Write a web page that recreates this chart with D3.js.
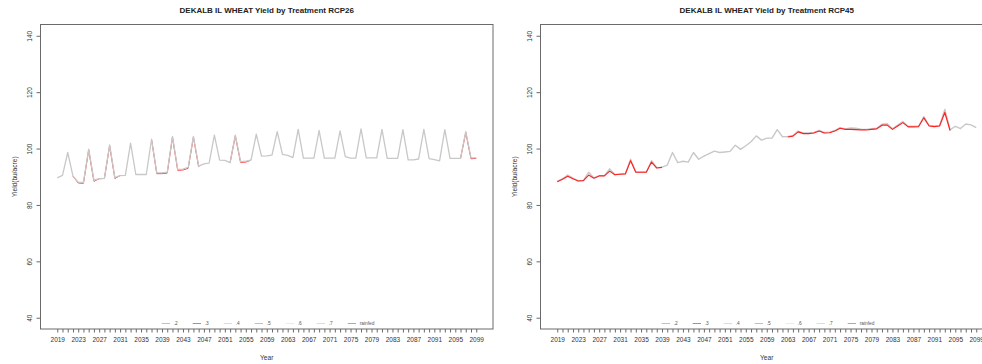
<!DOCTYPE html>
<html><head><meta charset="utf-8">
<script src="https://cdn.jsdelivr.net/npm/d3@7"></script>
<style>body{margin:0;background:#fff;overflow:hidden;} svg{display:block;font-family:"Liberation Sans",Arial,sans-serif;}</style>
</head><body><svg id="c" width="982" height="364"></svg>
<script>
// ---------- data ----------
const years = d3.range(2019, 2100);
const xTickLabels = ["2019","2023","2027","2031","2035","2039","2043","2047","2051","2055","2059","2063","2067","2071","2075","2079","2083","2087","2091","2095","2099"];
const yTicks = [40, 60, 80, 100, 120, 140];
const treatments = [".2", ".3", ".4", ".5", ".6", ".7", "rainfed"];
const legendColors = ["#8ae68a", "#8c8cf0", "#9ef7f7", "#f59af5", "#f7f78c", "#dcdcdc", "#f58c8c"];
const titles = ["DEKALB IL WHEAT Yield by Treatment RCP26", "DEKALB IL WHEAT Yield by Treatment RCP45"];

const rcp26_t7 = [
  89.6, 90.5, 98.6, 90.2, 88.1, 88.0, 99.8, 88.7, 89.3, 89.4,
  101.3, 89.7, 90.4, 90.5, 101.9, 90.8, 90.8, 90.8, 103.3, 91.4,
  91.4, 91.6, 104.3, 92.6, 92.7, 93.3, 104.3, 93.8, 94.6, 94.8,
  104.8, 95.9, 95.8, 95.0, 104.8, 95.4, 95.5, 95.9, 105.1, 97.3,
  97.4, 97.7, 106.0, 97.9, 97.6, 96.8, 106.8, 96.6, 96.6, 96.6,
  106.4, 96.6, 96.6, 96.6, 106.3, 97.1, 96.6, 96.6, 107.0, 96.7,
  96.7, 96.7, 106.8, 96.5, 96.5, 96.5, 106.7, 96.0, 96.0, 96.3,
  106.8, 96.4, 96.1, 95.6, 106.7, 96.5, 96.5, 96.5, 106.0, 96.7,
  96.7];
const rcp26_rainfed = [
  null, null, null, 90.2, 87.8, 87.7, 99.5, 88.4, 89.3, 89.4,
  101.0, 89.4, 90.4, null, null, null, null, null, 103.3, 91.1,
  91.1, 91.3, 104.0, 92.3, 92.4, 93.0, 104.0, 93.5, null, null,
  null, null, null, 95.0, 104.5, 95.1, 95.2, 95.9, null, null,
  null, null, null, null, null, null, null, null, null, null,
  null, null, null, null, null, null, null, null, null, null,
  null, null, null, null, null, null, null, null, null, null,
  null, null, null, null, null, null, null, 96.5, 105.7, 96.4,
  96.5];

const rcp45_t7 = [
  88.4, 89.3, 90.6, 89.5, 88.6, 88.7, 91.6, 89.6, 90.4, 90.4,
  92.8, 90.8, 91.0, 91.1, 96.2, 91.7, 91.7, 91.7, 95.7, 93.2,
  93.4, 94.1, 98.6, 95.0, 95.5, 95.2, 98.6, 96.2, 97.3, 98.2,
  99.1, 98.6, 98.8, 99.0, 101.2, 99.7, 101.0, 102.4, 104.5, 103.0,
  103.7, 103.7, 106.7, 104.2, 104.3, 104.6, 106.2, 105.5, 105.5, 105.7,
  106.4, 105.7, 105.8, 106.4, 107.4, 107.0, 107.3, 107.2, 106.9, 106.8,
  107.0, 107.2, 108.6, 108.8, 107.0, 108.3, 109.6, 107.9, 107.9, 108.0,
  111.3, 108.2, 108.0, 108.2, 113.9, 106.6, 107.9, 107.1, 108.7, 108.4,
  107.4];
const rcp45_rainfed = [
  88.2, 89.1, 90.2, 89.3, 88.5, 88.6, 90.6, 89.5, 90.3, 90.3,
  92.0, 90.7, 90.9, 91.0, 95.7, 91.6, 91.6, 91.6, 95.2, 93.1,
  93.3, null, null, null, null, null, null, null, null, null,
  null, null, null, null, null, null, null, null, null, null,
  null, null, null, null, 104.1, 104.4, 105.9, 105.3, 105.3, 105.5,
  106.2, 105.5, 105.6, 106.2, 107.2, 106.8, 106.8, 106.7, 106.6, 106.6,
  106.8, 107.0, 108.3, 108.3, 106.8, 108.0, 109.2, 107.7, 107.7, 107.8,
  110.9, 108.0, 107.8, 108.0, 112.8, 106.4, null, null, null, null,
  null];

// ---------- layout ----------
const svg = d3.select("#c");
const L = 40.5, R = 493, T = 24.5, B = 329;
const x = d3.scaleLinear().domain([2015.8, 2102.2]).range([L, R]);
const y = d3.scaleLinear().domain([36, 144]).range([B, T]);
const axisColor = "#6a6a6a";

const panels = [
  {offset: 0, title: titles[0], series: [
    {values: rcp26_rainfed, color: "#ff3030", width: 1.0},
    {values: rcp26_t7, color: "#c8c8c8", width: 1.3}]},
  {offset: 500, title: titles[1], series: [
    {values: rcp45_t7, color: "#c8c8c8", width: 1.4},
    {values: rcp45_rainfed, color: "#ff2020", width: 1.15}]}
];

panels.forEach(p => {
  const g = svg.append("g").attr("transform", `translate(${p.offset},0)`);

  // title
  g.append("text").attr("x", (L + R) / 2).attr("y", 10)
    .attr("text-anchor", "middle").attr("dominant-baseline", "central")
    .attr("font-weight", "bold").attr("font-size", 8).attr("fill", "#222")
    .text(p.title);

  // lines
  const line = d3.line().defined(d => d[1] != null)
    .x(d => x(d[0])).y(d => y(d[1]));
  p.series.forEach(s => {
    g.append("path").datum(years.map((yr, i) => [yr, s.values[i]]))
      .attr("fill", "none").attr("stroke", s.color).attr("stroke-width", s.width)
      .attr("stroke-linejoin", "round").attr("d", line);
  });

  // box
  g.append("rect").attr("x", L).attr("y", T).attr("width", R - L).attr("height", B - T)
    .attr("fill", "none").attr("stroke", axisColor).attr("stroke-width", 1);

  // x axis
  const xa = g.append("g").attr("transform", `translate(0,${B})`)
    .call(d3.axisBottom(x).tickValues(years).tickSize(3.5).tickPadding(5)
      .tickFormat(d => xTickLabels.includes(String(d)) ? String(d) : ""));
  xa.select(".domain").remove();
  xa.selectAll("line").attr("stroke", axisColor);
  xa.selectAll("text").attr("font-size", 6.5).attr("fill", "#333")
    .attr("font-family", "Liberation Sans, Arial, sans-serif");

  // y axis
  const ya = g.append("g").attr("transform", `translate(${L},0)`)
    .call(d3.axisLeft(y).tickValues(yTicks).tickSize(4));
  ya.select(".domain").attr("stroke", axisColor)
    .attr("d", `M0,${y(40)}V${y(140)}`);
  ya.selectAll("line").attr("stroke", axisColor);
  ya.selectAll("text").attr("font-size", 6.5).attr("fill", "#333")
    .attr("font-family", "Liberation Sans, Arial, sans-serif")
    .attr("transform", "rotate(-90)").attr("x", 0).attr("y", -11)
    .attr("dy", null).attr("text-anchor", "middle").attr("dominant-baseline", "central");

  // axis titles
  g.append("text").attr("x", (L + R) / 2).attr("y", 357)
    .attr("text-anchor", "middle").attr("dominant-baseline", "central")
    .attr("font-size", 6.6).attr("fill", "#333").text("Year");
  g.append("text").attr("transform", `translate(14,${(T + B) / 2}) rotate(-90)`)
    .attr("text-anchor", "middle").attr("dominant-baseline", "central")
    .attr("font-size", 6.6).attr("fill", "#333").text("Yield(bu/acre)");

  // legend
  const lg = g.append("g").attr("transform", "translate(161.7,323.5)");
  treatments.forEach((t, i) => {
    const it = lg.append("g").attr("transform", `translate(${i * 31},0)`);
    it.append("line").attr("x1", 0).attr("x2", 8.3).attr("y1", 0).attr("y2", 0)
      .attr("stroke", legendColors[i]).attr("stroke-width", 1);
    it.append("text").attr("x", 12).attr("y", 0).attr("dominant-baseline", "central")
      .attr("font-size", 4.8).attr("fill", "#555").text(t);
  });
});
</script></body></html>
